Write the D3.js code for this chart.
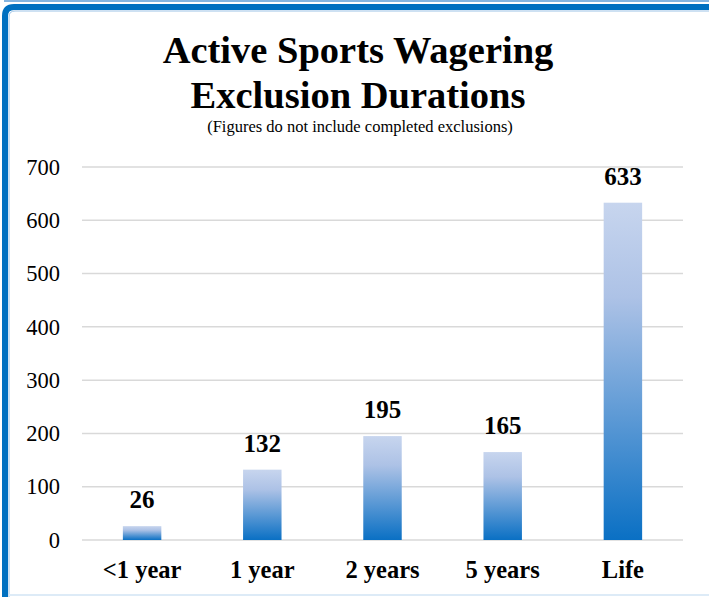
<!doctype html>
<html>
<head>
<script src="https://cdn.jsdelivr.net/npm/d3@7"></script>
<style>
  body { margin: 0; background: #fff; }
  svg { display: block; }
  svg text { font-family: "Liberation Serif", "DejaVu Serif", serif; }
</style>
</head>
<body>
<svg id="chart" width="709" height="597"></svg>
<script>
var categories = ["<1 year", "1 year", "2 years", "5 years", "Life"];
var counts = [26, 132, 195, 165, 633];
var yTicks = [0, 100, 200, 300, 400, 500, 600, 700];

var svg = d3.select("#chart");

// frame
svg.append("line").attr("x1", 4).attr("x2", 709).attr("y1", 1).attr("y2", 1)
   .style("stroke", "#5b9bd5").style("stroke-width", 1.5);
svg.append("path").attr("d", "M5,597 V16 Q5,7 14,7 H709")
   .style("fill", "none").style("stroke", "#0070c0").style("stroke-width", 6);
svg.append("path").attr("d", "M9,597 V17 Q9,11 15,11 H709")
   .style("fill", "none").style("stroke", "#9dc3e6").style("stroke-width", 1);
svg.append("line").attr("x1", 9).attr("x2", 709).attr("y1", 595).attr("y2", 595)
   .style("stroke", "#ddebf7").style("stroke-width", 2);

// gradient
var grad = svg.append("defs").append("linearGradient")
   .attr("id", "barGrad").attr("x1", 0).attr("x2", 0).attr("y1", 0).attr("y2", 1);
grad.append("stop").attr("offset", "0%").attr("stop-color", "#c7d5ee");
grad.append("stop").attr("offset", "28%").attr("stop-color", "#adc2e6");
grad.append("stop").attr("offset", "100%").attr("stop-color", "#0a70c4");

var x = d3.scaleBand().domain(categories).range([82, 683]).paddingInner(0.68).paddingOuter(0.34);
var y = d3.scaleLinear().domain([0, 700]).range([540, 167]);

// gridlines
svg.append("g").selectAll("line").data(yTicks).enter().append("line")
   .attr("x1", 82).attr("x2", 683)
   .attr("y1", d => y(d)).attr("y2", d => y(d))
   .style("stroke", "#d9d9d9").style("stroke-width", 1.5);

// y axis labels
var yAxis = d3.axisLeft(y).tickValues(yTicks).tickSize(0).tickPadding(22);
svg.append("g").attr("transform", "translate(82,0)").call(yAxis)
   .attr("font-family", null)
   .call(g => g.select(".domain").remove())
   .selectAll("text")
   .style("font-size", "22.5px").style("fill", "#000");

// bars
svg.append("g").selectAll("rect").data(counts).enter().append("rect")
   .attr("x", (d, i) => x(categories[i]))
   .attr("width", x.bandwidth())
   .attr("y", d => y(d))
   .attr("height", d => y(0) - y(d))
   .style("fill", "url(#barGrad)");

// value labels
svg.append("g").selectAll("text").data(counts).enter().append("text")
   .attr("x", (d, i) => x(categories[i]) + x.bandwidth() / 2)
   .attr("y", d => y(d) - 18)
   .attr("text-anchor", "middle")
   .style("font-weight", "bold").style("font-size", "25px")
   .text(d => d);

// x axis labels
var xAxis = d3.axisBottom(x).tickSize(0).tickPadding(21);
svg.append("g").attr("transform", "translate(0,540)").call(xAxis)
   .attr("font-family", null)
   .call(g => g.select(".domain").remove())
   .selectAll("text")
   .style("font-weight", "bold").style("font-size", "24.5px").style("fill", "#000");

// title
svg.append("text").attr("x", 358).attr("y", 63).attr("text-anchor", "middle")
   .style("font-weight", "bold").style("font-size", "38.5px")
   .text("Active Sports Wagering");
svg.append("text").attr("x", 358).attr("y", 108).attr("text-anchor", "middle")
   .style("font-weight", "bold").style("font-size", "38.5px")
   .text("Exclusion Durations");
svg.append("text").attr("x", 360).attr("y", 132).attr("text-anchor", "middle")
   .style("font-size", "16.5px")
   .text("(Figures do not include completed exclusions)");
</script>
</body>
</html>
